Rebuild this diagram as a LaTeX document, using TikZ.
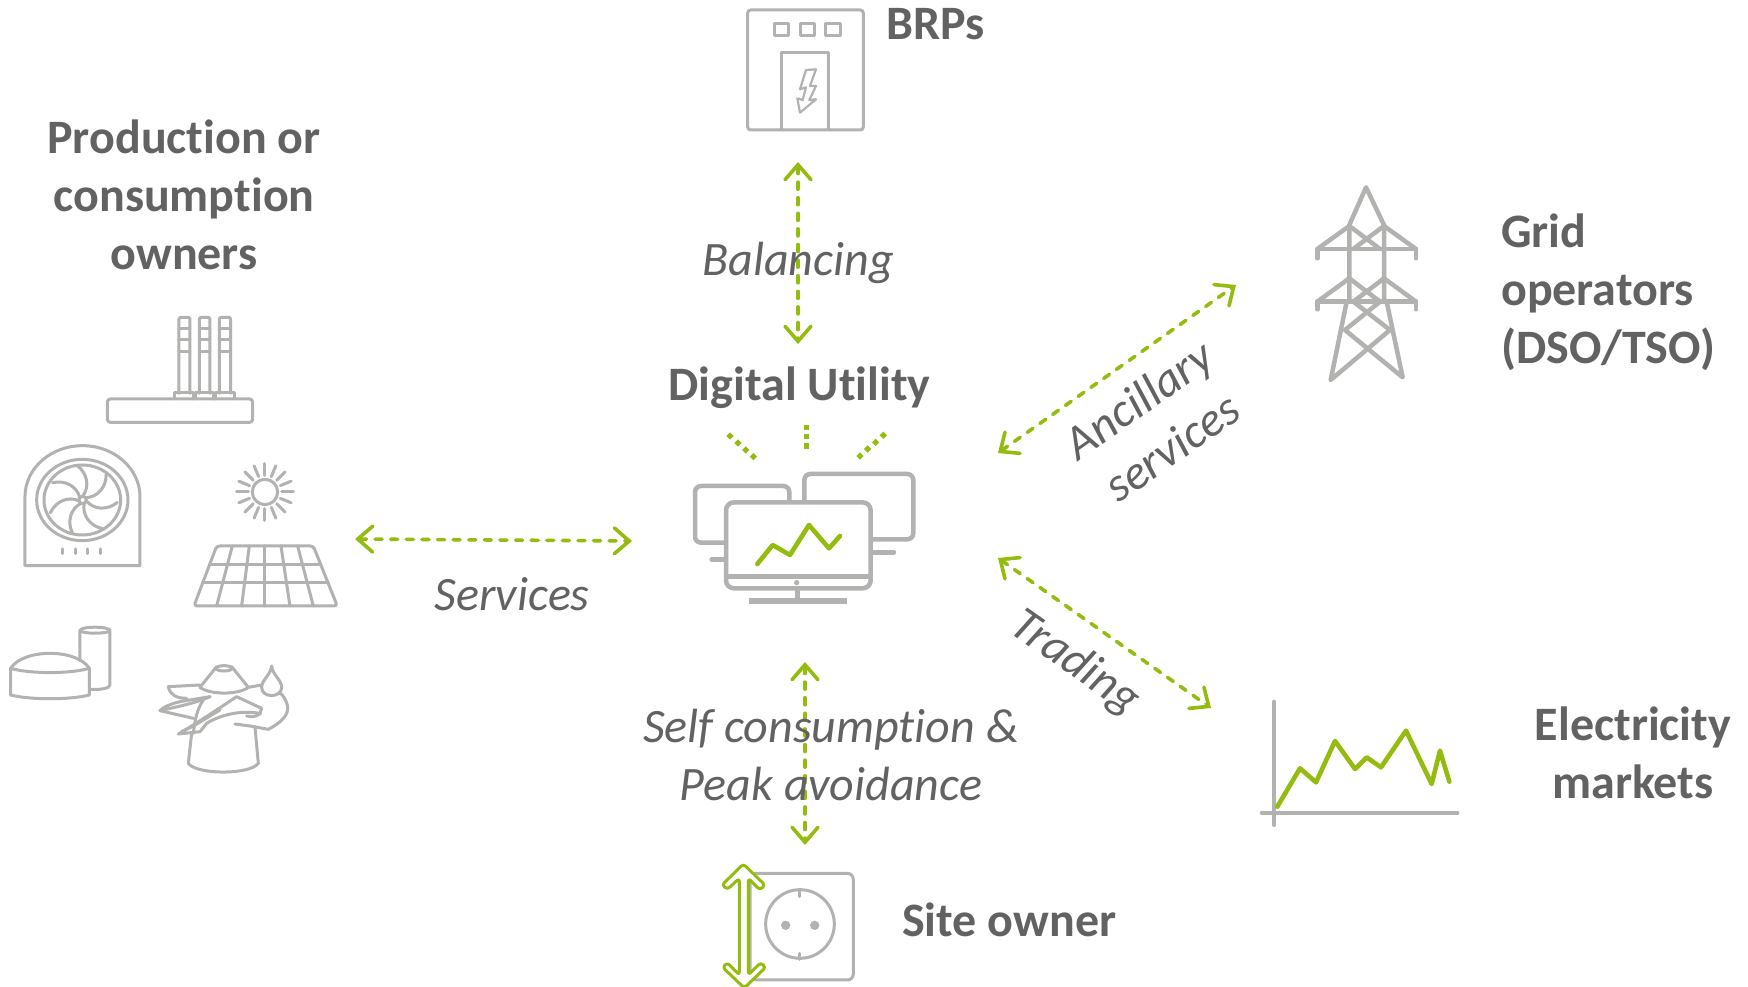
\documentclass[tikz,border=0pt]{standalone}
\usepackage{fontspec}
\setmainfont[Ligatures=NoCommon]{Carlito}
\usetikzlibrary{arrows.meta}
\definecolor{icongrey}{HTML}{B2B2B0}
\definecolor{leaf}{HTML}{94BC0E}
\definecolor{ink}{HTML}{626262}
\tikzset{
  head/.style={text=ink,font=\fontsize{48}{58}\selectfont\bfseries,align=center,inner sep=0pt},
  tag/.style={text=ink,font=\fontsize{48}{58}\selectfont\itshape,align=center,inner sep=0pt},
  link/.style={draw=leaf,line width=3.6pt,line cap=round,dash pattern=on 7pt off 8.6pt,
    {Straight Barb[length=15pt,width=26pt,line width=3.6pt,line cap=round]}-{Straight Barb[length=15pt,width=26pt,line width=3.6pt,line cap=round]}},
  ic/.style={draw=icongrey,line width=3pt,line join=round,line cap=round},
  icthick/.style={draw=icongrey,line width=4.5pt,line join=round,line cap=round},
  greenline/.style={draw=leaf,line width=4.6pt,line join=round,line cap=round},
}
\begin{document}
\begin{tikzpicture}[x=1pt,y=-1pt]
\useasboundingbox (0,0) rectangle (1748,987);
\fill[white] (0,0) rectangle (1748,987);

% BRP icon
\begin{scope}[shift={(720,0)},x=.3333pt,y=-.3333pt]
\draw[ic,rounded corners=3pt] (83,30) rectangle (430,390);
\draw[ic] (162,70) rectangle (205,108) (240,70) rectangle (283,108) (318,70) rectangle (362,108);
\draw[ic] (183,390) -- (183,158) -- (327,158) -- (327,390);
\draw[ic,line width=2.2pt] (258,210) -- (288,208) -- (270,258) -- (288,258) -- (268,300) -- (288,298) -- (240,338) -- (232,295) -- (248,300) -- (258,262) -- (240,268) -- cycle;
\end{scope}

\begin{scope}[shift={(0,300)},x=.3333pt,y=-.3333pt]
% Factory
\draw[ic,rounded corners=3pt] (322,297) rectangle (758,367);
\foreach \xa/\xb in {537/570,598/630,658/692}{
  \draw[ic,rounded corners=2pt] (\xa,280) -- (\xa,52) -- (\xb,52) -- (\xb,280);
  \draw[ic] (\xa,85) -- (\xb,85) (\xa,120) -- (\xb,120) (\xa,155) -- (\xb,155);
  \draw[ic] (\xa-12,297) -- (\xa-12,277) -- (\xb+12,277) -- (\xb+12,297);
}
% Fan heater
\draw[ic] (75,797) -- (75,590) arc[start angle=180,end angle=360,x radius=172.5,y radius=153] -- (420,797) -- cycle;
\draw[ic] (247,600) ellipse[x radius=137,y radius=122];
\draw[ic] (247,600) ellipse[x radius=115,y radius=105];
\draw[ic] (248,600) circle[radius=11];
\foreach \a in {0,51.43,...,310}{
  \draw[ic,rotate around={\a:(248,600)}] (248,589) .. controls (270,560) and (262,520) .. (232,497);
}
\foreach \xa in {188,228,263,302}{\draw[ic] (\xa,747) -- (\xa,761);}
% Sun
\draw[ic] (795,576) circle[radius=38];
\foreach \a in {0,22.5,...,340}{
  \draw[ic] (795,576) ++(\a:50) -- ++(\a:35);
}
% Solar panel
\draw[ic,rounded corners=3pt] (650,738) -- (940,738) -- (1012,918) -- (582,918) -- cycle;
\draw[ic] (628,793) -- (962,793) (607,848) -- (985,848);
\foreach \xa/\xb in {697/650,748/725,795/795,843/870,893/940}{\draw[ic] (\xa,738) -- (\xb,918);}
\end{scope}

% Biogas and biomass
\begin{scope}[shift={(0,600)},x=.3333pt,y=-.3333pt]
\draw[ic] (240,182) -- (240,92) .. controls (240,78) and (330,78) .. (330,92) -- (330,255) .. controls (330,265) and (300,270) .. (270,268);
\draw[ic] (240,92) .. controls (245,102) and (325,102) .. (330,92);
\draw[ic] (32,205) .. controls (70,145) and (230,145) .. (268,205);
\draw[ic] (32,205) .. controls (90,222) and (210,222) .. (268,205);
\draw[ic] (32,205) -- (32,285) .. controls (90,300) and (210,300) .. (268,285) -- (268,205);
% biomass
\draw[ic] (575,400) -- (565,490) .. controls (590,525) and (750,525) .. (775,490) -- (765,380);
\draw[ic] (600,262) -- (650,200) (695,200) -- (745,262);
\draw[ic] (672,205) ellipse[x radius=24,y radius=8];
\draw[ic] (600,262) .. controls (630,285) and (715,285) .. (745,262);
\draw[ic] (600,255) -- (505,260) .. controls (510,285) and (530,295) .. (560,295);
\draw[ic] (630,290) -- (540,305) .. controls (510,312) and (490,322) .. (480,332) -- (580,355);
\draw[ic] (480,332) .. controls (530,320) and (580,312) .. (630,290);
\draw[ic] (610,300) .. controls (590,330) and (585,360) .. (580,400);
\draw[ic] (535,402) .. controls (590,370) and (650,330) .. (710,290) -- (785,325) -- (780,340) .. controls (720,330) and (660,345) .. (620,370) -- (600,395) -- (535,402);
\draw[ic] (545,395) .. controls (590,375) and (625,350) .. (660,330);
\draw[ic] (705,372) -- (750,378) -- (805,388) .. controls (840,370) and (870,345) .. (862,315) .. controls (858,300) and (850,285) .. (838,278);
\draw[ic] (745,262) -- (785,255);
\draw[ic] (740,348) .. controls (755,352) and (770,350) .. (782,340);
\draw[ic] (815,198) .. controls (812,225) and (785,240) .. (785,262) .. controls (785,295) and (845,295) .. (845,262) .. controls (845,240) and (818,225) .. (815,198);
\end{scope}

% Monitors
\begin{scope}[shift={(660,420)},x=.3333pt,y=-.3333pt]
\draw[icthick,rounded corners=6pt] (105,198) rectangle (388,368);
\draw[icthick,rounded corners=6pt] (433,162) rectangle (760,358);
\draw[icthick] (155,418) -- (198,418) (632,397) -- (702,397);
\draw[icthick,fill=white,rounded corners=8pt] (198,247) rectangle (632,505);
\draw[icthick,line cap=butt] (198,470) -- (632,470);
\fill[icongrey] (410,488) circle[radius=8];
\draw[icthick,line cap=butt] (412,505) -- (412,540);
\draw[icthick,line width=5.4pt,line cap=butt] (268,543) -- (560,543);
\draw[greenline] (292,432) -- (338,375) -- (390,405) -- (447,315) -- (507,385) -- (540,348);
\foreach \xa/\ya in {440/22,440/50,440/78}{
  \fill[leaf] (\xa,\ya) ++(-8,-8) rectangle ++(16,16);
}
\foreach \xa/\ya in {210/48,234/69,257/90,280/110,670/46,647/67,623/87,600/108}{
  \fill[leaf] (\xa-11,\ya) -- (\xa,\ya-11) -- (\xa+11,\ya) -- (\xa,\ya+11) -- cycle;
}
\end{scope}

% Tower
\begin{scope}[shift={(1290,170)},x=.3333pt,y=-.3333pt]
\draw[icthick] (178,395) -- (178,165) -- (228,52) -- (282,165) -- (282,395);
\draw[icthick] (82,265) -- (82,237) -- (378,237) -- (378,265);
\draw[icthick] (82,237) -- (178,168) -- (270,237) (378,237) -- (282,168) -- (190,237);
\draw[icthick] (82,418) -- (82,395) -- (378,395) -- (378,418);
\draw[icthick] (82,395) -- (178,325) -- (270,395) (378,395) -- (282,325) -- (190,395);
\draw[icthick] (170,395) -- (122,630) -- (300,480) -- (190,395);
\draw[icthick] (290,395) -- (338,622) -- (165,480) -- (270,395);
\end{scope}

% Market chart
\begin{scope}[shift={(1250,680)},x=.3333pt,y=-.3333pt]
\draw[icthick,line width=4pt] (72,65) -- (72,435) (35,398) -- (622,398);
\draw[greenline] (82,380) -- (150,265) -- (198,307) -- (255,183) -- (315,267) -- (350,232) -- (393,262) -- (468,152) -- (545,312) -- (570,212) -- (598,305);
\end{scope}

% Outlet
\begin{scope}[shift={(700,850)},x=.3333pt,y=-.3333pt]
\draw[ic,rounded corners=6pt] (150,70) rectangle (460,390);
\draw[ic] (300,222) circle[radius=103];
\fill[icongrey] (257,226) circle[radius=14] (344,226) circle[radius=14];
\draw[ic] (300,120) -- (300,140) (300,310) -- (300,328);
\draw[draw=leaf,fill=white,line width=3pt,line join=round,rounded corners=3pt] (130,42) -- (195,105) -- (180,120) -- (145,85) -- (145,375) -- (182,338) -- (197,352) -- (133,414) -- (68,352) -- (82,338) -- (118,375) -- (118,85) -- (82,118) -- (66,105) -- cycle;
\end{scope}

% Anchors for links
\coordinate (balT) at (798,162);
\coordinate (balB) at (798,344);
\coordinate (srvL) at (355,539);
\coordinate (srvR) at (632,541);
\coordinate (ancL) at (998,453);
\coordinate (ancR) at (1236,285);
\coordinate (trdL) at (998,558);
\coordinate (trdR) at (1211,708);
\coordinate (selfT) at (805,662);
\coordinate (selfB) at (805,845);

\draw[link] (balT) -- (balB);
\draw[link] (srvL) -- (srvR);
\draw[link] (ancL) -- (ancR);
\draw[link] (trdL) -- (trdR);
\draw[link] (selfT) -- (selfB);

% Labels
\node[head,anchor=west] (brp) at (886,24) {BRPs};
\node[head] (prod) at (184,195) {Production or\\consumption\\owners};
\node[head] (du) at (799.5,388) {Digital Utility};
\node[head,align=left,anchor=west] (grid) at (1501,292) {Grid\\operators\\(DSO/TSO)};
\node[head] (mkt) at (1633,753) {Electricity\\markets};
\node[head,anchor=west] (site) at (902,920) {Site owner};
\node[tag] (bal) at (798,263) {Balancing};
\node[tag] (srv) at (512,594) {Services};
\node[tag] (self) at (831,755) {Self consumption \&\\Peak avoidance};
\node[tag,rotate=35] (anc) at (1155,423) {Ancillary\\services};
\node[tag,rotate=-35] (trd) at (1075,663) {Trading};
\end{tikzpicture}
\end{document}
